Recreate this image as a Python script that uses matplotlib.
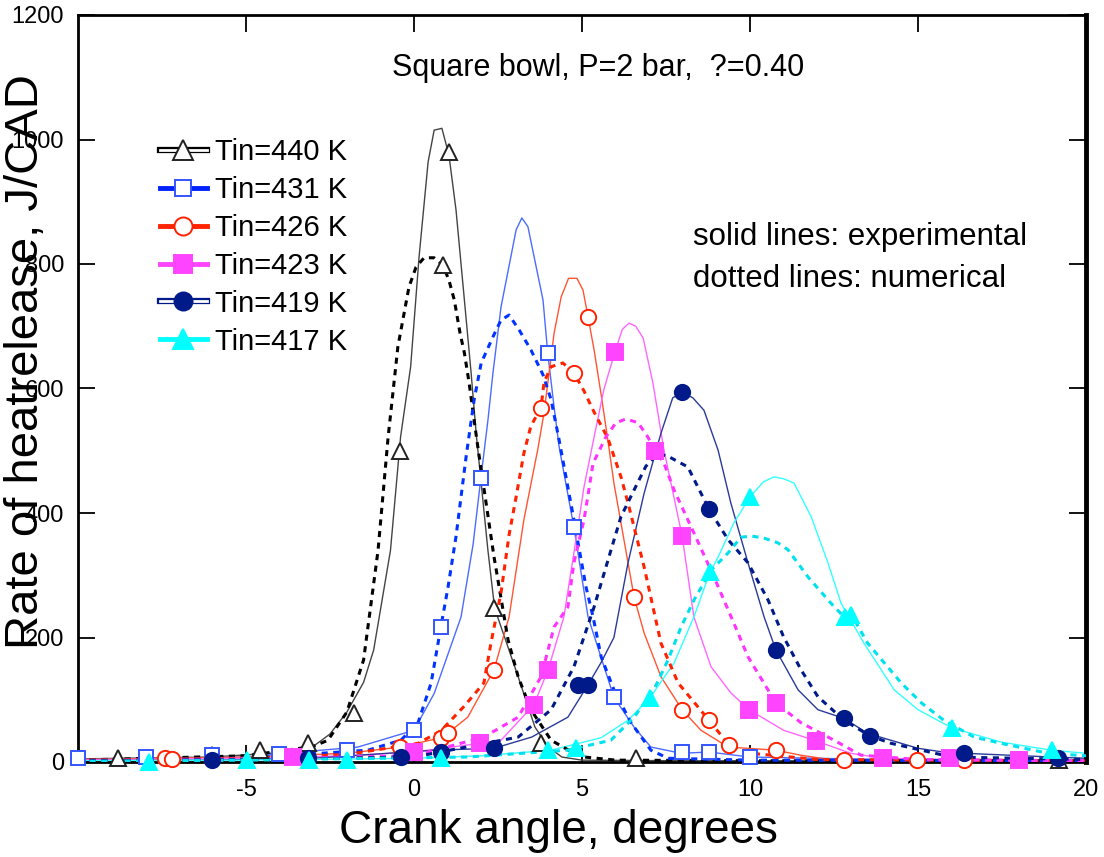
import matplotlib
matplotlib.use("Agg")
import matplotlib.pyplot as plt
import matplotlib.patheffects as pe
from matplotlib.lines import Line2D

plt.rcParams["font.family"] = ["Liberation Sans", "DejaVu Sans"]
plt.rcParams["axes.unicode_minus"] = False

labels = ["Tin=440 K", "Tin=431 K", "Tin=426 K", "Tin=423 K", "Tin=419 K", "Tin=417 K"]

# Tin=440 K
exp440_x = [-10, -6, -4, -3, -2.5, -2, -1.5, -1.2, -0.7, -0.4, -0.1, 0.15, 0.42, 0.6, 0.83, 1.04, 1.25, 1.5, 1.7, 1.85, 2.2, 2.4, 3.1, 3.6, 4.0, 4.4, 5, 8, 12, 20]
exp440_y = [5, 8, 15, 25, 45, 80, 128, 180, 340, 522, 635, 811, 964, 1015, 1018, 975, 887, 742, 625, 528, 340, 247, 137, 56, 24, 8, 3, 2, 2, 2]
num440_x = [-10, -5, -3, -2.56, -2, -1.5, -1.07, -0.77, -0.48, -0.15, 0.06, 0.3, 0.6, 0.86, 1.04, 1.2, 1.37, 1.5, 1.64, 1.79, 1.9, 2.38, 2.8, 3.1, 3.48, 4.08, 4.6, 5.07, 6, 10, 20]
num440_y = [3, 10, 25, 35, 80, 164, 340, 522, 667, 763, 795, 810, 810, 798, 774, 742, 689, 657, 609, 549, 506, 330, 196, 137, 84, 35, 19, 8, 3, 2, 2]
mk440_x = [-8.8, -6.0, -4.58, -3.16, -1.8, -0.42, 0.86, 1.04, 2.38, 3.78, 6.6, 19.2]
mk440_y = [6, 11, 19, 30, 78, 500, 798, 980, 247, 30, 6, 3]

# Tin=431 K
exp431_x = [-10, -5, -3.4, -1.67, 0, 0.6, 1.4, 1.76, 1.99, 2.2, 2.35, 2.59, 3.04, 3.21, 3.39, 3.84, 3.98, 4.17, 4.32, 4.76, 5.18, 5.95, 6.55, 7.05, 7.95, 8.78, 10, 14, 20]
exp431_y = [4, 8, 16, 24, 51, 110, 233, 350, 456, 549, 625, 731, 855, 874, 860, 742, 657, 570, 506, 377, 233, 104, 56, 24, 14, 16, 8, 4, 3]
num431_x = [-10, -5, -1.37, -0.39, 0.12, 0.51, 0.8, 1.01, 1.25, 1.55, 1.79, 2.0, 2.35, 2.59, 2.83, 3.13, 3.48, 3.84, 4.08, 4.32, 4.76, 5.12, 5.33, 5.57, 5.95, 6.46, 7.05, 7.56, 10, 20]
num431_y = [3, 6, 19, 35, 63, 127, 217, 280, 362, 490, 582, 641, 683, 710, 718, 694, 662, 622, 582, 517, 389, 281, 233, 169, 116, 63, 19, 6, 3, 2]
mk431_x = [-10, -7.98, -6.0, -4.02, -2.0, 0, 0.8, 1.99, 3.98, 4.76, 5.95, 7.98, 8.78, 10]
mk431_y = [6, 8, 11, 13, 19, 51, 217, 456, 657, 377, 104, 16, 16, 8]

# Tin=426 K
exp426_x = [-10, -5, -2, -0.4, 0.8, 1.0, 1.6, 2.38, 2.83, 3.27, 3.69, 3.87, 4.02, 4.17, 4.38, 4.6, 4.85, 5.03, 5.18, 5.36, 5.57, 5.77, 5.95, 6.37, 6.55, 6.85, 7.35, 7.98, 8.54, 9.35, 10.77, 11.5, 12.5, 20]
exp426_y = [4, 8, 14, 24, 39, 46, 72, 148, 233, 389, 504, 561, 625, 689, 747, 777, 777, 758, 715, 662, 590, 517, 448, 320, 265, 207, 137, 84, 51, 24, 19, 11, 3, 2]
num426_x = [-10, -5, -2, 0.12, 0.8, 1.5, 2.08, 2.29, 2.59, 2.83, 3.04, 3.27, 3.48, 3.78, 3.87, 4.08, 4.43, 4.76, 5.06, 5.36, 5.77, 6.16, 6.37, 6.85, 7.35, 7.86, 8.78, 9.38, 10.03, 12, 20]
num426_y = [3, 6, 12, 30, 50, 90, 127, 191, 272, 365, 426, 496, 540, 569, 610, 635, 641, 625, 596, 562, 520, 458, 416, 313, 191, 127, 67, 27, 14, 4, 2]
mk426_x = [-7.4, -7.2, -0.42, 0.8, 1.0, 2.38, 3.78, 4.76, 5.18, 6.55, 7.98, 8.78, 9.38, 10.77, 12.8, 14.96, 16.37]
mk426_y = [6, 5, 24, 39, 46, 148, 569, 625, 715, 265, 84, 67, 27, 19, 3, 3, 3]

# Tin=423 K
exp423_x = [-10, -5, -2, 0, 1.96, 2.59, 3.57, 3.99, 4.46, 4.76, 5.06, 5.36, 5.65, 5.98, 6.2, 6.4, 6.6, 6.82, 7.11, 7.44, 7.98, 8.33, 8.84, 9.43, 9.97, 11.0, 11.96, 13.0, 13.96, 16, 20]
exp423_y = [3, 6, 10, 16, 30, 35, 92, 148, 233, 336, 442, 522, 598, 659, 695, 705, 700, 681, 609, 501, 363, 233, 153, 111, 84, 51, 34, 14, 6, 4, 3]
num423_x = [-10, -5, 0, 2.08, 3.1, 3.78, 4.17, 4.58, 4.76, 5.06, 5.33, 5.71, 6.01, 6.31, 6.67, 6.96, 7.17, 7.44, 7.74, 8.33, 8.93, 9.52, 9.94, 10.77, 11.52, 12.5, 13.3, 15, 20]
num423_y = [2, 5, 10, 40, 72, 137, 217, 249, 320, 389, 480, 522, 545, 551, 545, 522, 500, 480, 437, 368, 297, 223, 169, 95, 63, 35, 11, 4, 2]
mk423_x = [-3.6, 0, 1.96, 3.57, 3.99, 5.98, 7.17, 7.98, 9.97, 10.77, 11.96, 13.96, 15.95, 18]
mk423_y = [8, 16, 30, 92, 148, 659, 500, 363, 84, 95, 34, 6, 6, 3]

# Tin=419 K
exp419_x = [-10, -6, -3, 0.6, 2.38, 3.5, 4.58, 5.18, 5.57, 5.95, 6.37, 6.85, 7.35, 7.7, 7.98, 8.3, 8.63, 9.05, 9.43, 9.94, 10.42, 10.77, 11.43, 12.02, 12.8, 13.5, 15, 16, 16.37, 19, 20]
exp419_y = [2, 3, 6, 19, 22, 40, 72, 124, 160, 200, 320, 432, 528, 585, 594, 585, 565, 501, 416, 320, 233, 180, 116, 84, 70, 46, 22, 14, 14, 8, 6]
num419_x = [-10, -5, 0, 3.1, 4.08, 4.76, 5.36, 5.86, 6.16, 6.55, 6.9, 7.26, 7.6, 8.15, 8.78, 9.35, 9.94, 10.54, 11.0, 11.52, 12.02, 12.8, 13.57, 14.2, 16, 20]
num419_y = [2, 4, 8, 40, 84, 153, 249, 340, 394, 437, 475, 496, 490, 474, 406, 357, 320, 260, 201, 148, 105, 67, 42, 30, 8, 4]
mk419_x = [-6.0, -3.16, -0.39, 0.8, 2.38, 4.88, 5.18, 7.98, 8.78, 10.77, 12.8, 13.57, 16.37, 19.17]
mk419_y = [3, 6, 8, 16, 22, 124, 124, 594, 406, 180, 70, 42, 14, 6]

# Tin=417 K
exp417_x = [-10, -5, 0, 2, 4.08, 5.57, 6.37, 7.02, 7.74, 8.33, 8.81, 9.05, 9.52, 10.0, 10.4, 10.71, 11.0, 11.31, 11.82, 12.32, 12.71, 13.39, 14.29, 15, 16, 17.47, 18.96, 20]
exp417_y = [2, 3, 6, 10, 19, 39, 67, 103, 159, 233, 305, 329, 384, 426, 450, 458, 455, 448, 394, 320, 255, 191, 116, 84, 55, 32, 19, 14]
num417_x = [-10, -5, 1.6, 4.58, 5.86, 6.55, 7.14, 7.56, 7.95, 8.33, 8.84, 9.35, 9.73, 10.03, 10.4, 10.83, 11.13, 11.73, 12.41, 12.8, 13.07, 13.5, 14.0, 14.5, 15.1, 15.77, 16.67, 17.47, 18.87, 20]
num417_y = [1, 3, 8, 19, 35, 72, 116, 164, 217, 260, 308, 336, 361, 363, 360, 352, 341, 297, 255, 233, 232, 191, 159, 127, 95, 67, 40, 30, 14, 10]
mk417_x = [-7.9, -4.97, -3.13, -2.0, 0.8, 3.99, 4.82, 7.02, 8.81, 10.0, 12.83, 13.0, 16.0, 19.0]
mk417_y = [0, 3, 3, 3, 6, 19, 22, 103, 305, 426, 233, 236, 55, 19]

series = [
    (exp440_x, exp440_y, num440_x, num440_y, mk440_x, mk440_y),
    (exp431_x, exp431_y, num431_x, num431_y, mk431_x, mk431_y),
    (exp426_x, exp426_y, num426_x, num426_y, mk426_x, mk426_y),
    (exp423_x, exp423_y, num423_x, num423_y, mk423_x, mk423_y),
    (exp419_x, exp419_y, num419_x, num419_y, mk419_x, mk419_y),
    (exp417_x, exp417_y, num417_x, num417_y, mk417_x, mk417_y),
]

# colour of exp line, num line, legend line; marker, size, face, edge
styles = [
    dict(ce="#444444", cn="#000000", cl="#000000", m="^", ms=12, fc="white", ec="#222222"),
    dict(ce="#4d6bff", cn="#0033ff", cl="#0022ff", m="s", ms=10, fc="white", ec="#3355ff"),
    dict(ce="#ff5533", cn="#ff2200", cl="#ff2200", m="o", ms=11, fc="white", ec="#ff2200"),
    dict(ce="#ff66ff", cn="#ff33ff", cl="#ff44ff", m="s", ms=11, fc="#ff44ff", ec="#ff44ff"),
    dict(ce="#2a3a99", cn="#001a8a", cl="#001a8a", m="o", ms=11, fc="#001a8a", ec="#001a8a"),
    dict(ce="#33ffff", cn="#00e0ee", cl="#00ffff", m="^", ms=12, fc="#00ffff", ec="#00ffff"),
]

W, H = 1104, 857
fig = plt.figure(figsize=(W / 100, H / 100), dpi=100)
ax = fig.add_axes([78 / W, 95 / H, 1008 / W, 747 / H])

for (ex, ey, nx, ny, mx, my), st in zip(series, styles):
    ax.plot(ex, ey, color=st["ce"], lw=1.0, zorder=2)
    ax.plot(nx, ny, color=st["cn"], lw=2.2, ls=(0, (2.0, 1.8)), zorder=3)
    ax.plot(mx, my, ls="none", marker=st["m"], ms=st["ms"], mfc=st["fc"],
            mec=st["ec"], mew=1.4, clip_on=False, zorder=5)

ax.set_xlim(-10, 20)
ax.set_ylim(0, 1200)
ax.set_xticks([-5, 0, 5, 10, 15, 20])
ax.set_yticks(range(0, 1201, 200))
ax.tick_params(direction="in", length=12, width=1.3, top=True, right=True, labelsize=17)
ax.tick_params(axis="y", pad=10)
ax.tick_params(axis="x", pad=12)
for s in ["left", "bottom", "top"]:
    ax.spines[s].set_linewidth(2)
ax.spines["right"].set_linewidth(3.5)

# legend
handles = []
for i, st in enumerate(styles):
    if i in (0, 4):
        ln = Line2D([], [], color="white", lw=2,
                    path_effects=[pe.Stroke(linewidth=4.5, foreground=st["cl"]), pe.Normal()])
    else:
        ln = Line2D([], [], color=st["cl"], lw=3.5)
    mk = Line2D([], [], ls="none", marker=st["m"], ms=st["ms"] + 2, mfc=st["fc"],
                mec=st["ec"], mew=1.4)
    handles.append((ln, mk))
ax.legend(handles, labels, loc="upper left", bbox_to_anchor=(160 / W, 1 - 138 / H),
          bbox_transform=fig.transFigure, frameon=False, fontsize=21,
          handlelength=1.6, handletextpad=0.3, labelspacing=0.34,
          borderpad=0, borderaxespad=0)

fig.text(392 / W, 1 - 76 / H, "Square bowl, P=2 bar,  ?=0.40", fontsize=22, va="baseline")
fig.text(693 / W, 1 - 245 / H, "solid lines: experimental", fontsize=22.5, va="baseline")
fig.text(693 / W, 1 - 287 / H, "dotted lines: numerical", fontsize=22.5, va="baseline")

fig.text(558 / W, 14 / H, "Crank angle, degrees", fontsize=33, ha="center", va="baseline")
fig.text(4 / W, 1 - 362 / H, "Rate of heatrelease, J/CAD", fontsize=34, rotation=90,
         ha="left", va="center")

fig.savefig("out.png", dpi=100)
